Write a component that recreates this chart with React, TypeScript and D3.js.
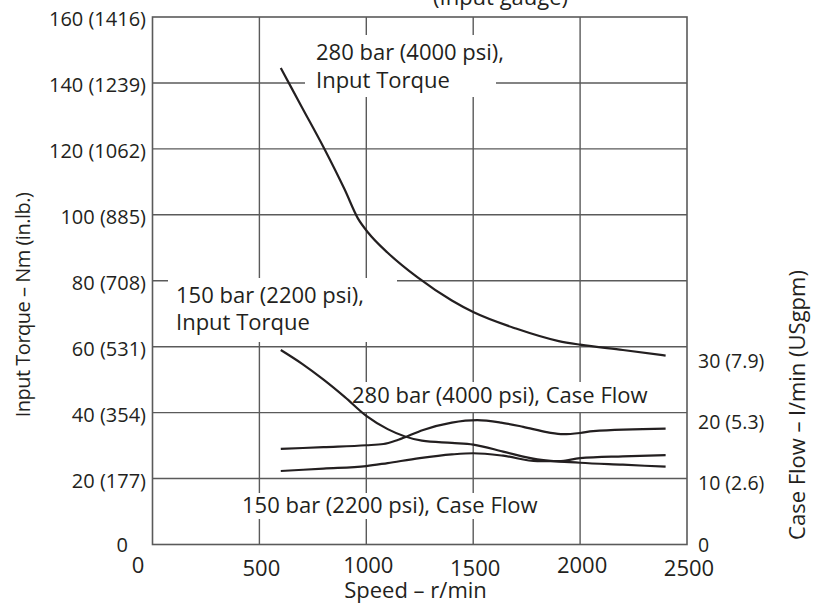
import React from "react";
import * as d3 from "d3";

// ---- data ----
const speedTicks = [0, 500, 1000, 1500, 2000, 2500];
const torqueTicks = [0, 20, 40, 60, 80, 100, 120, 140, 160];
const torqueTickLabels = ["0", "20 (177)", "40 (354)", "60 (531)", "80 (708)", "100 (885)", "120 (1062)", "140 (1239)", "160 (1416)"];
const flowTicks = [0, 10, 20, 30];
const flowTickLabels = ["0", "10 (2.6)", "20 (5.3)", "30 (7.9)"];

// [speed r/min, torque Nm]
const torque280: [number, number][] = [
  [600, 144.5], [700, 132.5], [800, 120.5], [900, 107.5], [960, 99], [1010, 94.5],
  [1100, 88.5], [1240, 81], [1400, 74], [1500, 70.5], [1700, 65.5], [1900, 61.7],
  [2000, 60.6], [2200, 59], [2400, 57.3],
];
const torque150: [number, number][] = [
  [600, 59], [700, 54.8], [800, 50], [900, 44.7], [1000, 39], [1100, 35],
  [1260, 31.5], [1400, 30.8], [1500, 30.3], [1650, 28], [1800, 25.8], [2000, 24.8],
  [2200, 24.2], [2400, 23.6],
];
// [speed r/min, case flow l/min]
const flow280: [number, number][] = [
  [600, 15.5], [800, 15.8], [1000, 16.1], [1080, 16.3], [1150, 17], [1266, 18.6],
  [1400, 19.8], [1519, 20.2], [1630, 19.8], [1734, 19.1], [1850, 18.2], [1921, 17.9],
  [2000, 18.1], [2061, 18.4], [2400, 18.8],
];
const flow150: [number, number][] = [
  [600, 11.9], [800, 12.3], [1000, 12.7], [1100, 13.2], [1250, 14], [1400, 14.6],
  [1500, 14.8], [1640, 14.4], [1800, 13.5], [1900, 13.5], [2000, 14], [2200, 14.3],
  [2400, 14.5],
];

const FONT = "'Open Sans', 'Noto Sans', sans-serif";
const INK = "#231f20";
const GRID = "#5a5a5a";

export default function App() {
  const x = d3.scaleLinear().domain([0, 2500]).range([152.5, 687]);
  const yL = d3.scaleLinear().domain([0, 160]).range([544.5, 17]);
  const yR = d3.scaleLinear().domain([0, 30]).range([544, 360]);

  const lineL = d3.line<[number, number]>().x((d) => x(d[0])).y((d) => yL(d[1])).curve(d3.curveMonotoneX);
  const lineR = d3.line<[number, number]>().x((d) => x(d[0])).y((d) => yR(d[1])).curve(d3.curveMonotoneX);

  const [x0, x1] = x.range();
  const [yb, yt] = yL.range();

  return (
    <svg width={818} height={604} style={{ position: "absolute", left: 0, top: 0, background: "#fff" }} fontFamily={FONT}>
      <rect x={0} y={0} width={818} height={604} fill="#fff" />
      {/* grid */}
      {speedTicks.slice(1, -1).map((s) => (
        <line key={"v" + s} x1={x(s)} x2={x(s)} y1={yt} y2={yb} stroke={GRID} strokeWidth={1.4} />
      ))}
      {torqueTicks.slice(1, -1).map((t) => (
        <line key={"h" + t} x1={x0} x2={x1} y1={yL(t)} y2={yL(t)} stroke={GRID} strokeWidth={1.4} />
      ))}
      {/* label knock-outs */}
      <rect x={305} y={35} width={191} height={62} fill="#fff" />
      <rect x={168} y={278} width={229} height={64} fill="#fff" />
      <rect x={342} y={382} width={318} height={30} fill="#fff" />
      <rect x={235} y={493} width={310} height={26} fill="#fff" />
      {/* frame */}
      <rect x={x0} y={yt} width={x1 - x0} height={yb - yt} fill="none" stroke={GRID} strokeWidth={1.6} />

      {/* curves */}
      {[torque280, torque150].map((d, i) => (
        <path key={"t" + i} d={lineL(d) || ""} fill="none" stroke={INK} strokeWidth={2.2} />
      ))}
      {[flow280, flow150].map((d, i) => (
        <path key={"f" + i} d={lineR(d) || ""} fill="none" stroke={INK} strokeWidth={2.2} />
      ))}

      {/* left ticks */}
      {torqueTicks.map((t, i) => (
        <text key={"lt" + t} x={t === 0 ? 128 : 146} y={yL(t) + (t === 0 ? 0 : 1.5)} textAnchor="end" dominantBaseline="central" fontSize={20} fill={INK}>
          {torqueTickLabels[i]}
        </text>
      ))}
      {/* right ticks */}
      {flowTicks.map((f, i) => (
        <text key={"rt" + f} x={698} y={yR(f)} textAnchor="start" dominantBaseline="central" fontSize={19.5} fill={INK}>
          {flowTickLabels[i]}
        </text>
      ))}
      {/* bottom ticks */}
      {speedTicks.map((s, i) => (
        <text key={"bt" + s} x={s === 0 ? 138 : x(s) + 2} y={i % 2 ? 576 : 573} textAnchor="middle" fontSize={22} fill={INK}>
          {s}
        </text>
      ))}

      {/* axis titles */}
      <text x={415.5} y={598} textAnchor="middle" fontSize={22} fill={INK}>Speed – r/min</text>
      <text transform="translate(30,305) rotate(-90)" textAnchor="middle" fontSize={20} letterSpacing={-0.5} fill={INK}>
        Input Torque – Nm (in.lb.)
      </text>
      <text transform="translate(805,405) rotate(-90)" textAnchor="middle" fontSize={22} fill={INK}>
        Case Flow – l/min (USgpm)
      </text>
      <text x={433} y={5} fontSize={22} fill={INK}>(Input gauge)</text>

      {/* annotations */}
      <text x={316} y={60} fontSize={22} fill={INK}>280 bar (4000 psi),</text>
      <text x={316} y={88} fontSize={22} fill={INK}>Input Torque</text>
      <text x={176} y={303} fontSize={22} fill={INK}>150 bar (2200 psi),</text>
      <text x={176} y={330} fontSize={22} fill={INK}>Input Torque</text>
      <text x={352} y={403} fontSize={22} fill={INK}>280 bar (4000 psi), Case Flow</text>
      <text x={242} y={513} fontSize={22} fill={INK}>150 bar (2200 psi), Case Flow</text>
    </svg>
  );
}
